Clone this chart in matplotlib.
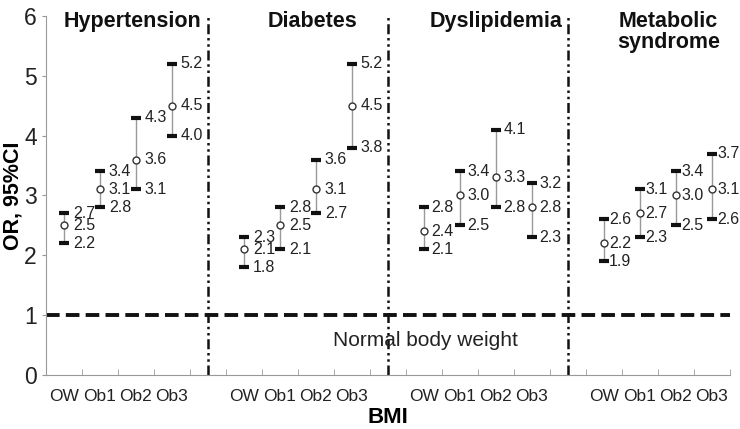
import matplotlib
matplotlib.use("Agg")
import matplotlib.pyplot as plt
import numpy as np

groups = ["Hypertension", "Diabetes", "Dyslipidemia", "Metabolic\nsyndrome"]
categories = ["OW", "Ob1", "Ob2", "Ob3"]

odds = [
    [2.5, 3.1, 3.6, 4.5],
    [2.1, 2.5, 3.1, 4.5],
    [2.4, 3.0, 3.3, 2.8],
    [2.2, 2.7, 3.0, 3.1],
]
lower = [
    [2.2, 2.8, 3.1, 4.0],
    [1.8, 2.1, 2.7, 3.8],
    [2.1, 2.5, 2.8, 2.3],
    [1.9, 2.3, 2.5, 2.6],
]
upper = [
    [2.7, 3.4, 4.3, 5.2],
    [2.3, 2.8, 3.6, 5.2],
    [2.8, 3.4, 4.1, 3.2],
    [2.6, 3.1, 3.4, 3.7],
]

plt.rcParams["font.family"] = ["Liberation Sans", "DejaVu Sans"]

fig = plt.figure(figsize=(7.4, 4.29), dpi=100)
ax = fig.add_axes([0.062, 0.126, 0.924, 0.837])

label_off = [0.25, 0.25, 0.22, 0.15]
xs_all = []
for g in range(4):
    xs = np.arange(4) + 5 * g + 0.5
    xs_all.extend(xs)
    o = np.array(odds[g])
    lo = np.array(lower[g])
    up = np.array(upper[g])
    ax.vlines(xs, lo, up, color="#999999", lw=1, zorder=2)
    ax.plot(xs, lo, ls="none", marker="_", ms=7, mew=3, color="#111111", zorder=3)
    ax.plot(xs, up, ls="none", marker="_", ms=7, mew=3, color="#111111", zorder=3)
    ax.plot(xs, o, ls="none", marker="o", ms=5, mfc="white", mec="#333333",
            mew=1, zorder=4)
    for x, a, b, c in zip(xs, o, lo, up):
        for v in (a, b, c):
            ax.text(x + label_off[g], v, f"{v:.1f}", fontsize=11.5,
                    color="#222222", va="center", ha="left", zorder=5)

title_x = [2.4, 7.4, 12.5, 17.3]
for g, t in enumerate(groups):
    ax.text(title_x[g], 6.08, t, fontsize=15.5, fontweight="bold", ha="center",
            va="top", linespacing=1.0, color="#111111")

# group separators
for s in [4.5, 9.5, 14.5]:
    ax.axvline(s, color="#111111", lw=1.8, dashes=[4, 1.5, 1, 1.5, 1, 1.5])

ax.axhline(1, color="#111111", lw=2.8, dashes=[3.5, 1.6])
ax.text(10.55, 0.58, "Normal body weight", fontsize=15, ha="center",
        va="center", color="#222222")

ax.set_xlim(0, 19)
ax.set_ylim(0, 6)
ax.set_xticks(xs_all)
ax.set_xticklabels(categories * 4, fontsize=12.5, color="#222222")
ax.set_xticks([i for i in range(1, 20)], minor=True)
ax.tick_params(axis="x", which="major", length=0, pad=10)
ax.tick_params(axis="x", which="minor", direction="in", length=4,
               color="#999999")
ax.set_yticks(range(7))
ax.tick_params(axis="y", labelsize=16.5, length=3, color="#999999",
               labelcolor="#222222", direction="out")

for side in ["top", "right"]:
    ax.spines[side].set_visible(False)
for side in ["left", "bottom"]:
    ax.spines[side].set_color("#999999")

fig.text(0.004, 0.126 + 0.837 / 2, "OR, 95%CI", fontsize=15.5,
         fontweight="bold", rotation=90, ha="left", va="center")
ax.set_xlabel("BMI", fontsize=16, fontweight="bold", labelpad=2)

fig.savefig("out.png", dpi=100)
